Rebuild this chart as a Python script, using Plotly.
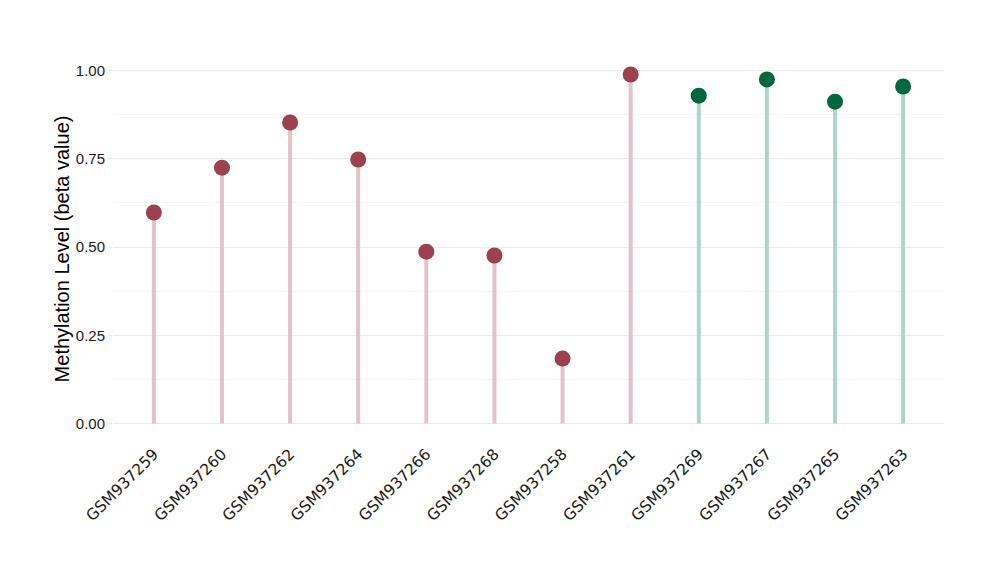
import plotly.graph_objects as go

samples = ["GSM937259", "GSM937260", "GSM937262", "GSM937264", "GSM937266", "GSM937268",
           "GSM937258", "GSM937261", "GSM937269", "GSM937267", "GSM937265", "GSM937263"]
beta = [0.598, 0.725, 0.853, 0.748, 0.487, 0.476, 0.184, 0.989, 0.929, 0.975, 0.912, 0.955]
group = ["A"] * 8 + ["B"] * 4

marker_col = {"A": "#9B4150", "B": "#00673F"}
stem_col = {"A": "#E0C4CA", "B": "#B2D4C7"}

fig = go.Figure()
for g in ["A", "B"]:
    xs, ys = [], []
    for s, v, gg in zip(samples, beta, group):
        if gg == g:
            xs += [s, s, None]
            ys += [0, v, None]
    fig.add_trace(go.Scatter(x=xs, y=ys, mode="lines",
                             line=dict(color=stem_col[g], width=4),
                             hoverinfo="skip", showlegend=False))
for g in ["A", "B"]:
    xs = [s for s, gg in zip(samples, group) if gg == g]
    ys = [v for v, gg in zip(beta, group) if gg == g]
    fig.add_trace(go.Scatter(x=xs, y=ys, mode="markers",
                             marker=dict(color=marker_col[g], size=16, line=dict(width=0)),
                             showlegend=False))

fig.update_layout(
    width=1000, height=580,
    plot_bgcolor="white", paper_bgcolor="white",
    margin=dict(l=105, r=64, t=49, b=147, autoexpand=False),
    font=dict(family="Liberation Sans, Arial", color="#1a1a1a"),
)
fig.update_xaxes(
    categoryorder="array", categoryarray=samples, automargin=False,
    range=[-0.6, 11.6], showgrid=False, zeroline=False, showline=False,
    tickangle=-45, tickfont=dict(family="DejaVu Sans", size=15.5, color="#1a1a1a"),
    ticks="", ticklen=0,
)
fig.update_yaxes(
    automargin=False,
    range=[-0.0495, 1.0385], tickvals=[0, 0.25, 0.5, 0.75, 1.0],
    ticktext=["0.00", "0.25", "0.50", "0.75", "1.00"],
    showgrid=True, gridcolor="#EBEBEB", gridwidth=1,
    minor=dict(tickvals=[0.125, 0.375, 0.625, 0.875], showgrid=True, gridcolor="#F5F5F5", gridwidth=1),
    zeroline=False, showline=False,
    ticks="outside", ticklen=4, tickcolor="#EBEBEB",
    tickfont=dict(size=15, color="#1a1a1a"),
    title=dict(text="Methylation Level (beta value)", font=dict(size=20, color="#000000"), standoff=0),
)

fig.write_html("out.html")
